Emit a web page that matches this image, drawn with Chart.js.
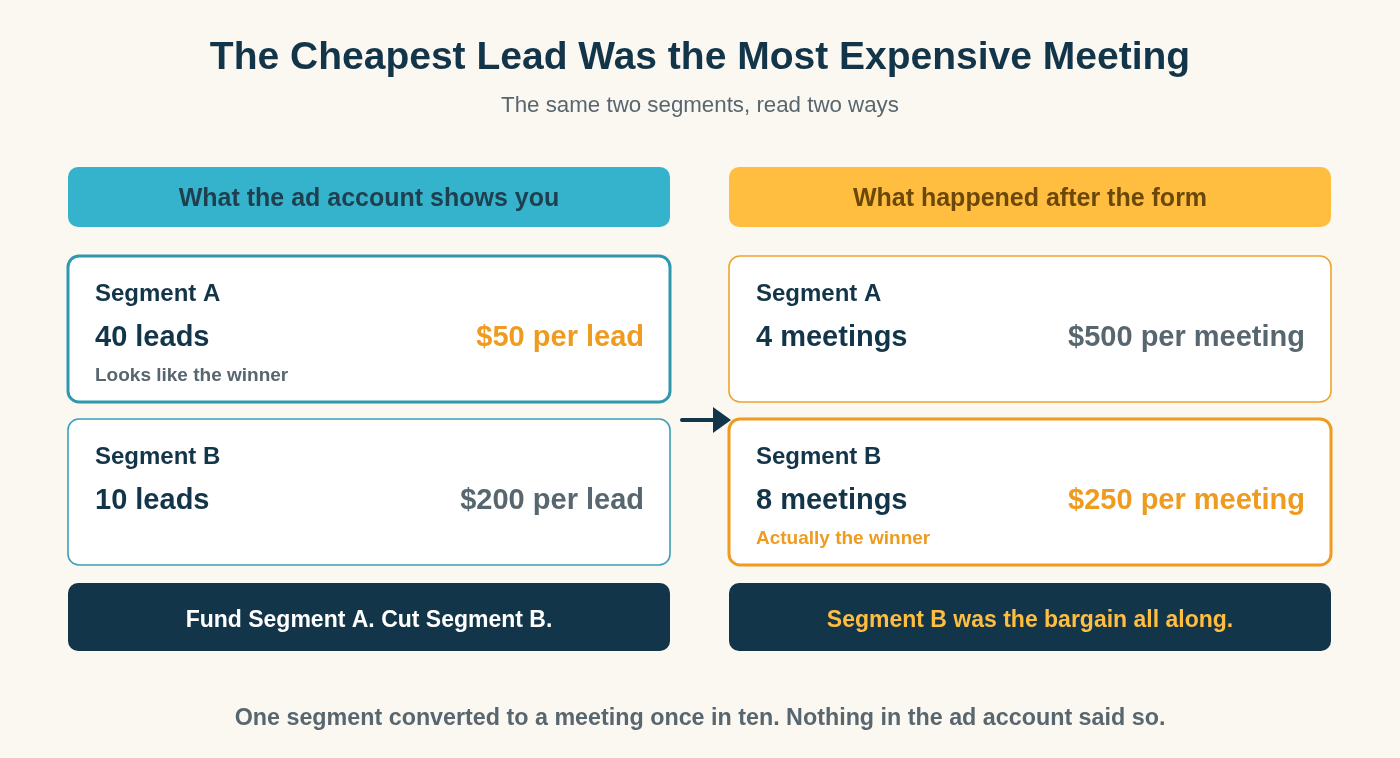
<!DOCTYPE html>
<html>
<head>
<meta charset="utf-8">
<title>The Cheapest Lead Was the Most Expensive Meeting</title>
<script src="https://cdn.jsdelivr.net/npm/chart.js@4.4.1/dist/chart.umd.min.js"></script>
<style>
  html, body { margin: 0; padding: 0; background: #fbf7f1; }
  #wrap { width: 1400px; height: 758px; position: relative; }
</style>
</head>
<body>
<div id="wrap"><canvas id="myChart"></canvas></div>
<script>
// data
var segments = ['Segment A', 'Segment B'];
var leads = [40, 10];
var costPerLead = [50, 200];
var meetings = [4, 8];
var costPerMeeting = [500, 250];

// texts
var title = 'The Cheapest Lead Was the Most Expensive Meeting';
var subtitle = 'The same two segments, read two ways';
var headers = ['What the ad account shows you', 'What happened after the form'];
var winnerNotes = ['Looks like the winner', 'Actually the winner'];
var verdicts = ['Fund Segment A. Cut Segment B.', 'Segment B was the bargain all along.'];
var footNote = 'One segment converted to a meeting once in ten. Nothing in the ad account said so.';

var FONT = "'Liberation Sans', Arial, Helvetica, sans-serif";
var navy = '#13354a';
var grey = '#58676f';
var orange = '#ee9b1f';
var yellow = '#ffbe40';
var teal = '#35b3cc';
var tealLine = '#2f97ae';

// layout in scale units (x 0..1400, y 0..758)
var colX = [68, 729];
var colW = 602;
var cardY = [256, 419];
var cardH = 146;

function argmin(arr) {
  var k = 0;
  for (var i = 1; i < arr.length; i++) if (arr[i] < arr[k]) k = i;
  return k;
}

function rr(ctx, x, y, w, h, r) {
  ctx.beginPath();
  ctx.moveTo(x + r, y);
  ctx.lineTo(x + w - r, y);
  ctx.arcTo(x + w, y, x + w, y + r, r);
  ctx.lineTo(x + w, y + h - r);
  ctx.arcTo(x + w, y + h, x + w - r, y + h, r);
  ctx.lineTo(x + r, y + h);
  ctx.arcTo(x, y + h, x, y + h - r, r);
  ctx.lineTo(x, y + r);
  ctx.arcTo(x, y, x + r, y, r);
  ctx.closePath();
}

function txt(ctx, s, x, y, size, weight, color, align) {
  ctx.font = weight + ' ' + size + 'px ' + FONT;
  ctx.fillStyle = color;
  ctx.textAlign = align || 'left';
  ctx.textBaseline = 'alphabetic';
  ctx.fillText(s, x, y);
}

var boardPlugin = {
  id: 'board',
  beforeDraw: function (chart) {
    var ctx = chart.ctx;
    ctx.save();
    ctx.fillStyle = '#fbf7f1';
    ctx.fillRect(0, 0, chart.width, chart.height);
    ctx.restore();
  },
  afterDraw: function (chart) {
    var ctx = chart.ctx;
    var sx = chart.scales.x, sy = chart.scales.y;
    var px = function (v) { return sx.getPixelForValue(v); };
    var py = function (v) { return sy.getPixelForValue(v); };
    var cx = px(700);
    ctx.save();

    txt(ctx, title, cx, py(69), 39, 'bold', navy, 'center');
    txt(ctx, subtitle, cx, py(112), 22.3, 'normal', grey, 'center');

    var cols = [
      { counts: leads, unit: 'leads', cost: costPerLead, per: 'per lead',
        head: teal, headText: '#1f3f4f', line: tealLine, thin: '#3aa0b8' },
      { counts: meetings, unit: 'meetings', cost: costPerMeeting, per: 'per meeting',
        head: yellow, headText: '#6b4708', line: orange, thin: '#efa42e' }
    ];

    cols.forEach(function (c, ci) {
      var x0 = px(colX[ci]), x1 = px(colX[ci] + colW), w = x1 - x0;
      var mid = (x0 + x1) / 2;

      // header
      rr(ctx, x0, py(167), w, py(227) - py(167), 10);
      ctx.fillStyle = c.head;
      ctx.fill();
      txt(ctx, headers[ci], mid, py(206), 25, 'bold', c.headText, 'center');

      // cards
      var win = argmin(c.cost);
      segments.forEach(function (seg, i) {
        var y0 = py(cardY[i]), h = py(cardY[i] + cardH) - y0;
        rr(ctx, x0, y0, w, h, 11);
        ctx.fillStyle = '#ffffff';
        ctx.fill();
        ctx.lineWidth = i === win ? 3 : 1.6;
        ctx.strokeStyle = i === win ? c.line : c.thin;
        ctx.stroke();

        txt(ctx, seg, x0 + 27, py(cardY[i] + 45), 24, 'bold', navy);
        txt(ctx, c.counts[i] + ' ' + c.unit, x0 + 27, py(cardY[i] + 90), 29, 'bold', navy);
        txt(ctx, '$' + c.cost[i] + ' ' + c.per, x1 - 26, py(cardY[i] + 90), 29, 'bold',
            i === win ? orange : grey, 'right');
        if (i === win) {
          txt(ctx, winnerNotes[ci], x0 + 27, py(cardY[i] + 125), 19, 'bold',
              ci === 0 ? grey : orange);
        }
      });

      // verdict
      rr(ctx, x0, py(583), w, py(651) - py(583), 10);
      ctx.fillStyle = navy;
      ctx.fill();
      txt(ctx, verdicts[ci], mid, py(627), 23, 'bold', ci === 0 ? '#ffffff' : yellow, 'center');
    });

    // arrow between the columns
    var ay = py(420);
    ctx.strokeStyle = navy;
    ctx.lineWidth = 4;
    ctx.lineCap = 'round';
    ctx.beginPath();
    ctx.moveTo(px(682), ay);
    ctx.lineTo(px(715), ay);
    ctx.stroke();
    ctx.fillStyle = navy;
    ctx.beginPath();
    ctx.moveTo(px(713), ay - 13);
    ctx.lineTo(px(731), ay);
    ctx.lineTo(px(713), ay + 13);
    ctx.closePath();
    ctx.fill();

    txt(ctx, footNote, cx, py(725), 23.3, 'bold', grey, 'center');
    ctx.restore();
  }
};

new Chart('myChart', {
  type: 'scatter',
  data: { datasets: [] },
  options: {
    responsive: true,
    maintainAspectRatio: false,
    animation: false,
    events: [],
    layout: { padding: 0 },
    plugins: { legend: { display: false }, tooltip: { enabled: false } },
    scales: {
      x: { type: 'linear', min: 0, max: 1400, display: false },
      y: { type: 'linear', min: 0, max: 758, reverse: true, display: false }
    }
  },
  plugins: [boardPlugin]
});
</script>
</body>
</html>
